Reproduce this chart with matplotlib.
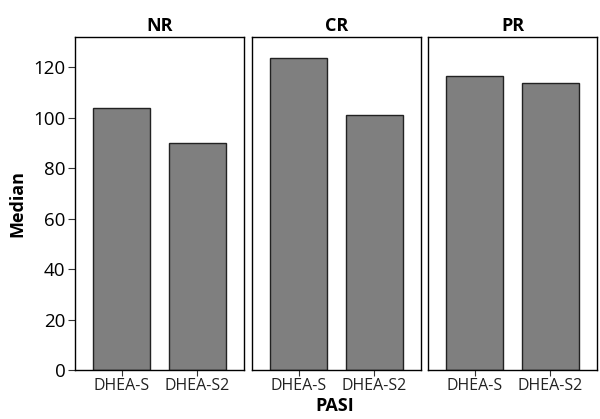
import matplotlib
matplotlib.use('Agg')
import matplotlib.pyplot as plt

plt.rcParams['font.family'] = ['Open Sans', 'DejaVu Sans']

groups = ['NR', 'CR', 'PR']
labels = ['DHEA-S', 'DHEA-S2']
medians = {
	'NR': [103.7, 89.9],
	'CR': [123.5, 100.9],
	'PR': [116.4, 113.8],
}
yticks = [0, 20, 40, 60, 80, 100, 120]

fig = plt.figure(figsize=(6, 4.19), dpi=100)
W, H = 600.0, 419.0
lefts = [75, 252, 428]
pw = 169
top = 37; bottom = 370

for i, g in enumerate(groups):
	ax = fig.add_axes([lefts[i]/W, 1 - bottom/H, pw/W, (bottom - top)/H])
	ax.bar(range(len(labels)), medians[g], width=0.75, color='#7f7f7f',
		edgecolor='#222222', linewidth=1.0)
	ax.set_xlim(-0.62, 1.62)
	ax.set_ylim(0, 132)
	ax.set_xticks(range(len(labels)))
	ax.set_xticklabels(labels, fontsize=11.5, color='#222222')
	ax.tick_params(axis='x', length=4, width=0.8, color='#333333', pad=2)
	for s in ax.spines.values():
		s.set_linewidth(1.0)
		s.set_color('black')
	if i == 0:
		ax.set_yticks(yticks)
		ax.tick_params(axis='y', length=5, width=0.8, color='#333333', labelsize=13.5, pad=2)
		ax.set_ylabel('Median', fontsize=13, fontweight='bold', labelpad=5)
	else:
		ax.set_yticks([])
	ax.set_title(g, fontsize=13, fontweight='bold', pad=4)

fig.text(335/W, 1 - 406/H, 'PASI', ha='center', va='center', fontsize=13, fontweight='bold')

fig.savefig('out.png', dpi=100)
